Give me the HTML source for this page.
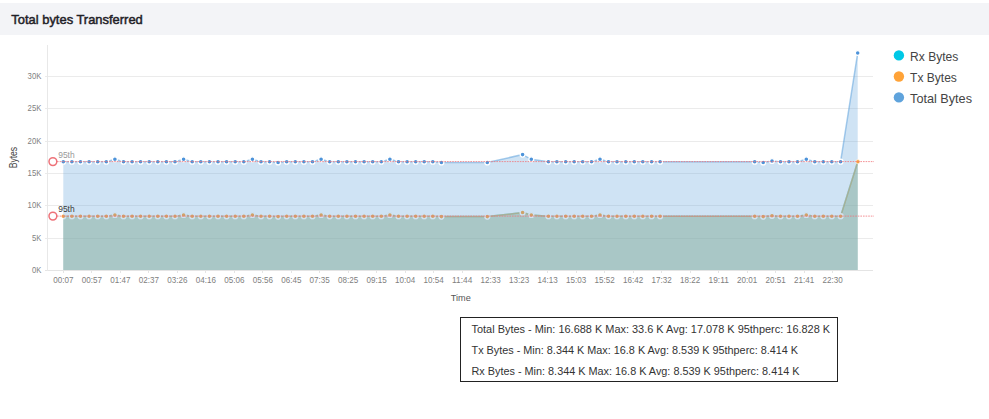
<!DOCTYPE html>
<html><head><meta charset="utf-8"><title>Total bytes Transferred</title>
<style>html,body{margin:0;padding:0;background:#fff;width:989px;height:419px;overflow:hidden;font-family:"Liberation Sans",sans-serif}</style></head>
<body>
<svg width="989" height="419" viewBox="0 0 989 419" style="position:absolute;left:0;top:0;font-family:'Liberation Sans',sans-serif">
<rect x="0" y="3" width="989" height="32" fill="#f3f4f7"/>
<text x="11.3" y="24" font-size="13.5" fill="#1f2127" stroke="#1f2127" stroke-width="0.5" textLength="131.5" lengthAdjust="spacingAndGlyphs">Total bytes Transferred</text>
<line x1="45" x2="873" y1="238.5" y2="238.5" stroke="#ebebeb" stroke-width="1"/>
<line x1="45" x2="873" y1="205.5" y2="205.5" stroke="#ebebeb" stroke-width="1"/>
<line x1="45" x2="873" y1="173.5" y2="173.5" stroke="#ebebeb" stroke-width="1"/>
<line x1="45" x2="873" y1="141.5" y2="141.5" stroke="#ebebeb" stroke-width="1"/>
<line x1="45" x2="873" y1="108.5" y2="108.5" stroke="#ebebeb" stroke-width="1"/>
<line x1="45" x2="873" y1="76.5" y2="76.5" stroke="#ebebeb" stroke-width="1"/>
<line x1="45" x2="873" y1="270.5" y2="270.5" stroke="#e4e4e4" stroke-width="1"/>
<line x1="47.5" x2="47.5" y1="45" y2="271" stroke="#e8e8e8" stroke-width="1"/>
<text x="41.4" y="273.0" font-size="8.5" fill="#808080" text-anchor="end" textLength="9.4" lengthAdjust="spacingAndGlyphs">0K</text>
<text x="41.4" y="241.0" font-size="8.5" fill="#808080" text-anchor="end" textLength="9.4" lengthAdjust="spacingAndGlyphs">5K</text>
<text x="41.4" y="208.0" font-size="8.5" fill="#808080" text-anchor="end" textLength="13.8" lengthAdjust="spacingAndGlyphs">10K</text>
<text x="41.4" y="176.0" font-size="8.5" fill="#808080" text-anchor="end" textLength="13.8" lengthAdjust="spacingAndGlyphs">15K</text>
<text x="41.4" y="144.0" font-size="8.5" fill="#808080" text-anchor="end" textLength="13.8" lengthAdjust="spacingAndGlyphs">20K</text>
<text x="41.4" y="111.0" font-size="8.5" fill="#808080" text-anchor="end" textLength="13.8" lengthAdjust="spacingAndGlyphs">25K</text>
<text x="41.4" y="79.0" font-size="8.5" fill="#808080" text-anchor="end" textLength="13.8" lengthAdjust="spacingAndGlyphs">30K</text>
<line x1="63.5" x2="63.5" y1="270" y2="273" stroke="#e4e4e4" stroke-width="1"/>
<text x="63.3" y="283" font-size="8.5" fill="#808080" text-anchor="middle" textLength="20.2" lengthAdjust="spacingAndGlyphs">00:07</text>
<line x1="91.5" x2="91.5" y1="270" y2="273" stroke="#e4e4e4" stroke-width="1"/>
<text x="91.8" y="283" font-size="8.5" fill="#808080" text-anchor="middle" textLength="20.2" lengthAdjust="spacingAndGlyphs">00:57</text>
<line x1="120.5" x2="120.5" y1="270" y2="273" stroke="#e4e4e4" stroke-width="1"/>
<text x="120.3" y="283" font-size="8.5" fill="#808080" text-anchor="middle" textLength="20.2" lengthAdjust="spacingAndGlyphs">01:47</text>
<line x1="148.5" x2="148.5" y1="270" y2="273" stroke="#e4e4e4" stroke-width="1"/>
<text x="148.8" y="283" font-size="8.5" fill="#808080" text-anchor="middle" textLength="20.2" lengthAdjust="spacingAndGlyphs">02:37</text>
<line x1="177.5" x2="177.5" y1="270" y2="273" stroke="#e4e4e4" stroke-width="1"/>
<text x="177.3" y="283" font-size="8.5" fill="#808080" text-anchor="middle" textLength="20.2" lengthAdjust="spacingAndGlyphs">03:26</text>
<line x1="205.5" x2="205.5" y1="270" y2="273" stroke="#e4e4e4" stroke-width="1"/>
<text x="205.8" y="283" font-size="8.5" fill="#808080" text-anchor="middle" textLength="20.2" lengthAdjust="spacingAndGlyphs">04:16</text>
<line x1="234.5" x2="234.5" y1="270" y2="273" stroke="#e4e4e4" stroke-width="1"/>
<text x="234.3" y="283" font-size="8.5" fill="#808080" text-anchor="middle" textLength="20.2" lengthAdjust="spacingAndGlyphs">05:06</text>
<line x1="262.5" x2="262.5" y1="270" y2="273" stroke="#e4e4e4" stroke-width="1"/>
<text x="262.8" y="283" font-size="8.5" fill="#808080" text-anchor="middle" textLength="20.2" lengthAdjust="spacingAndGlyphs">05:56</text>
<line x1="291.5" x2="291.5" y1="270" y2="273" stroke="#e4e4e4" stroke-width="1"/>
<text x="291.3" y="283" font-size="8.5" fill="#808080" text-anchor="middle" textLength="20.2" lengthAdjust="spacingAndGlyphs">06:45</text>
<line x1="319.5" x2="319.5" y1="270" y2="273" stroke="#e4e4e4" stroke-width="1"/>
<text x="319.7" y="283" font-size="8.5" fill="#808080" text-anchor="middle" textLength="20.2" lengthAdjust="spacingAndGlyphs">07:35</text>
<line x1="348.5" x2="348.5" y1="270" y2="273" stroke="#e4e4e4" stroke-width="1"/>
<text x="348.2" y="283" font-size="8.5" fill="#808080" text-anchor="middle" textLength="20.2" lengthAdjust="spacingAndGlyphs">08:25</text>
<line x1="376.5" x2="376.5" y1="270" y2="273" stroke="#e4e4e4" stroke-width="1"/>
<text x="376.7" y="283" font-size="8.5" fill="#808080" text-anchor="middle" textLength="20.2" lengthAdjust="spacingAndGlyphs">09:15</text>
<line x1="405.5" x2="405.5" y1="270" y2="273" stroke="#e4e4e4" stroke-width="1"/>
<text x="405.2" y="283" font-size="8.5" fill="#808080" text-anchor="middle" textLength="20.2" lengthAdjust="spacingAndGlyphs">10:04</text>
<line x1="433.5" x2="433.5" y1="270" y2="273" stroke="#e4e4e4" stroke-width="1"/>
<text x="433.7" y="283" font-size="8.5" fill="#808080" text-anchor="middle" textLength="20.2" lengthAdjust="spacingAndGlyphs">10:54</text>
<line x1="462.5" x2="462.5" y1="270" y2="273" stroke="#e4e4e4" stroke-width="1"/>
<text x="462.2" y="283" font-size="8.5" fill="#808080" text-anchor="middle" textLength="20.2" lengthAdjust="spacingAndGlyphs">11:44</text>
<line x1="490.5" x2="490.5" y1="270" y2="273" stroke="#e4e4e4" stroke-width="1"/>
<text x="490.7" y="283" font-size="8.5" fill="#808080" text-anchor="middle" textLength="20.2" lengthAdjust="spacingAndGlyphs">12:33</text>
<line x1="519.5" x2="519.5" y1="270" y2="273" stroke="#e4e4e4" stroke-width="1"/>
<text x="519.2" y="283" font-size="8.5" fill="#808080" text-anchor="middle" textLength="20.2" lengthAdjust="spacingAndGlyphs">13:23</text>
<line x1="547.5" x2="547.5" y1="270" y2="273" stroke="#e4e4e4" stroke-width="1"/>
<text x="547.7" y="283" font-size="8.5" fill="#808080" text-anchor="middle" textLength="20.2" lengthAdjust="spacingAndGlyphs">14:13</text>
<line x1="576.5" x2="576.5" y1="270" y2="273" stroke="#e4e4e4" stroke-width="1"/>
<text x="576.2" y="283" font-size="8.5" fill="#808080" text-anchor="middle" textLength="20.2" lengthAdjust="spacingAndGlyphs">15:03</text>
<line x1="604.5" x2="604.5" y1="270" y2="273" stroke="#e4e4e4" stroke-width="1"/>
<text x="604.7" y="283" font-size="8.5" fill="#808080" text-anchor="middle" textLength="20.2" lengthAdjust="spacingAndGlyphs">15:52</text>
<line x1="633.5" x2="633.5" y1="270" y2="273" stroke="#e4e4e4" stroke-width="1"/>
<text x="633.2" y="283" font-size="8.5" fill="#808080" text-anchor="middle" textLength="20.2" lengthAdjust="spacingAndGlyphs">16:42</text>
<line x1="661.5" x2="661.5" y1="270" y2="273" stroke="#e4e4e4" stroke-width="1"/>
<text x="661.7" y="283" font-size="8.5" fill="#808080" text-anchor="middle" textLength="20.2" lengthAdjust="spacingAndGlyphs">17:32</text>
<line x1="690.5" x2="690.5" y1="270" y2="273" stroke="#e4e4e4" stroke-width="1"/>
<text x="690.2" y="283" font-size="8.5" fill="#808080" text-anchor="middle" textLength="20.2" lengthAdjust="spacingAndGlyphs">18:22</text>
<line x1="718.5" x2="718.5" y1="270" y2="273" stroke="#e4e4e4" stroke-width="1"/>
<text x="718.7" y="283" font-size="8.5" fill="#808080" text-anchor="middle" textLength="20.2" lengthAdjust="spacingAndGlyphs">19:11</text>
<line x1="747.5" x2="747.5" y1="270" y2="273" stroke="#e4e4e4" stroke-width="1"/>
<text x="747.2" y="283" font-size="8.5" fill="#808080" text-anchor="middle" textLength="20.2" lengthAdjust="spacingAndGlyphs">20:01</text>
<line x1="775.5" x2="775.5" y1="270" y2="273" stroke="#e4e4e4" stroke-width="1"/>
<text x="775.6" y="283" font-size="8.5" fill="#808080" text-anchor="middle" textLength="20.2" lengthAdjust="spacingAndGlyphs">20:51</text>
<line x1="804.5" x2="804.5" y1="270" y2="273" stroke="#e4e4e4" stroke-width="1"/>
<text x="804.1" y="283" font-size="8.5" fill="#808080" text-anchor="middle" textLength="20.2" lengthAdjust="spacingAndGlyphs">21:41</text>
<line x1="832.5" x2="832.5" y1="270" y2="273" stroke="#e4e4e4" stroke-width="1"/>
<text x="832.6" y="283" font-size="8.5" fill="#808080" text-anchor="middle" textLength="20.2" lengthAdjust="spacingAndGlyphs">22:30</text>
<text x="460.8" y="300.9" font-size="9.5" fill="#555" text-anchor="middle" textLength="20" lengthAdjust="spacingAndGlyphs">Time</text>
<text transform="translate(17.4,157.6) rotate(-90)" font-size="10" fill="#444" text-anchor="middle" textLength="21.5" lengthAdjust="spacingAndGlyphs">Bytes</text>
<path d="M63.3,216.2 L71.9,216.2 L80.5,216.2 L89.1,216.2 L97.7,216.2 L106.3,216.2 L114.9,215.0 L123.5,216.2 L132.1,216.2 L140.6,216.2 L149.2,216.2 L157.8,216.2 L166.4,216.2 L175.0,216.2 L183.6,215.0 L192.2,216.2 L200.8,216.2 L209.4,216.2 L218.0,216.2 L226.6,216.2 L235.2,216.2 L243.8,216.2 L252.4,215.0 L261.0,216.2 L269.6,216.2 L278.1,216.6 L286.7,216.2 L295.3,216.2 L303.9,216.2 L312.5,216.2 L321.1,215.0 L329.7,216.2 L338.3,216.2 L346.9,216.2 L355.5,216.2 L364.1,216.2 L372.7,216.2 L381.3,216.2 L389.9,215.0 L398.5,216.2 L407.1,216.2 L415.7,216.2 L424.2,216.2 L432.8,216.2 L441.4,216.6 L487.3,216.6 L522.6,212.5 L531.3,215.0 L548.4,216.2 L556.9,216.2 L565.7,216.2 L574.2,216.2 L582.7,216.2 L591.5,216.2 L600.0,215.0 L608.5,216.2 L617.0,216.2 L625.8,216.2 L634.3,216.2 L642.8,216.2 L651.6,216.2 L660.1,216.2 L754.7,216.2 L763.2,216.6 L772.0,215.8 L780.5,216.2 L789.0,216.2 L797.5,216.2 L806.3,215.0 L814.8,216.2 L823.3,216.2 L831.8,216.2 L840.6,216.2 L857.7,161.7 L857.7,270 L63.3,270 Z" fill="#00c8e6" fill-opacity="0.3"/>
<path d="M63.3,216.2 L71.9,216.2 L80.5,216.2 L89.1,216.2 L97.7,216.2 L106.3,216.2 L114.9,215.0 L123.5,216.2 L132.1,216.2 L140.6,216.2 L149.2,216.2 L157.8,216.2 L166.4,216.2 L175.0,216.2 L183.6,215.0 L192.2,216.2 L200.8,216.2 L209.4,216.2 L218.0,216.2 L226.6,216.2 L235.2,216.2 L243.8,216.2 L252.4,215.0 L261.0,216.2 L269.6,216.2 L278.1,216.6 L286.7,216.2 L295.3,216.2 L303.9,216.2 L312.5,216.2 L321.1,215.0 L329.7,216.2 L338.3,216.2 L346.9,216.2 L355.5,216.2 L364.1,216.2 L372.7,216.2 L381.3,216.2 L389.9,215.0 L398.5,216.2 L407.1,216.2 L415.7,216.2 L424.2,216.2 L432.8,216.2 L441.4,216.6 L487.3,216.6 L522.6,212.5 L531.3,215.0 L548.4,216.2 L556.9,216.2 L565.7,216.2 L574.2,216.2 L582.7,216.2 L591.5,216.2 L600.0,215.0 L608.5,216.2 L617.0,216.2 L625.8,216.2 L634.3,216.2 L642.8,216.2 L651.6,216.2 L660.1,216.2 L754.7,216.2 L763.2,216.6 L772.0,215.8 L780.5,216.2 L789.0,216.2 L797.5,216.2 L806.3,215.0 L814.8,216.2 L823.3,216.2 L831.8,216.2 L840.6,216.2 L857.7,161.7" fill="none" stroke="#00c8e6" stroke-opacity="0.55" stroke-width="1.5" stroke-linejoin="round"/>
<circle cx="63.3" cy="216.2" r="2.45" fill="#00c8e6" stroke="#fff" stroke-width="1.3"/>
<circle cx="71.9" cy="216.2" r="2.45" fill="#00c8e6" stroke="#fff" stroke-width="1.3"/>
<circle cx="80.5" cy="216.2" r="2.45" fill="#00c8e6" stroke="#fff" stroke-width="1.3"/>
<circle cx="89.1" cy="216.2" r="2.45" fill="#00c8e6" stroke="#fff" stroke-width="1.3"/>
<circle cx="97.7" cy="216.2" r="2.45" fill="#00c8e6" stroke="#fff" stroke-width="1.3"/>
<circle cx="106.3" cy="216.2" r="2.45" fill="#00c8e6" stroke="#fff" stroke-width="1.3"/>
<circle cx="114.9" cy="215.0" r="2.45" fill="#00c8e6" stroke="#fff" stroke-width="1.3"/>
<circle cx="123.5" cy="216.2" r="2.45" fill="#00c8e6" stroke="#fff" stroke-width="1.3"/>
<circle cx="132.1" cy="216.2" r="2.45" fill="#00c8e6" stroke="#fff" stroke-width="1.3"/>
<circle cx="140.6" cy="216.2" r="2.45" fill="#00c8e6" stroke="#fff" stroke-width="1.3"/>
<circle cx="149.2" cy="216.2" r="2.45" fill="#00c8e6" stroke="#fff" stroke-width="1.3"/>
<circle cx="157.8" cy="216.2" r="2.45" fill="#00c8e6" stroke="#fff" stroke-width="1.3"/>
<circle cx="166.4" cy="216.2" r="2.45" fill="#00c8e6" stroke="#fff" stroke-width="1.3"/>
<circle cx="175.0" cy="216.2" r="2.45" fill="#00c8e6" stroke="#fff" stroke-width="1.3"/>
<circle cx="183.6" cy="215.0" r="2.45" fill="#00c8e6" stroke="#fff" stroke-width="1.3"/>
<circle cx="192.2" cy="216.2" r="2.45" fill="#00c8e6" stroke="#fff" stroke-width="1.3"/>
<circle cx="200.8" cy="216.2" r="2.45" fill="#00c8e6" stroke="#fff" stroke-width="1.3"/>
<circle cx="209.4" cy="216.2" r="2.45" fill="#00c8e6" stroke="#fff" stroke-width="1.3"/>
<circle cx="218.0" cy="216.2" r="2.45" fill="#00c8e6" stroke="#fff" stroke-width="1.3"/>
<circle cx="226.6" cy="216.2" r="2.45" fill="#00c8e6" stroke="#fff" stroke-width="1.3"/>
<circle cx="235.2" cy="216.2" r="2.45" fill="#00c8e6" stroke="#fff" stroke-width="1.3"/>
<circle cx="243.8" cy="216.2" r="2.45" fill="#00c8e6" stroke="#fff" stroke-width="1.3"/>
<circle cx="252.4" cy="215.0" r="2.45" fill="#00c8e6" stroke="#fff" stroke-width="1.3"/>
<circle cx="261.0" cy="216.2" r="2.45" fill="#00c8e6" stroke="#fff" stroke-width="1.3"/>
<circle cx="269.6" cy="216.2" r="2.45" fill="#00c8e6" stroke="#fff" stroke-width="1.3"/>
<circle cx="278.1" cy="216.6" r="2.45" fill="#00c8e6" stroke="#fff" stroke-width="1.3"/>
<circle cx="286.7" cy="216.2" r="2.45" fill="#00c8e6" stroke="#fff" stroke-width="1.3"/>
<circle cx="295.3" cy="216.2" r="2.45" fill="#00c8e6" stroke="#fff" stroke-width="1.3"/>
<circle cx="303.9" cy="216.2" r="2.45" fill="#00c8e6" stroke="#fff" stroke-width="1.3"/>
<circle cx="312.5" cy="216.2" r="2.45" fill="#00c8e6" stroke="#fff" stroke-width="1.3"/>
<circle cx="321.1" cy="215.0" r="2.45" fill="#00c8e6" stroke="#fff" stroke-width="1.3"/>
<circle cx="329.7" cy="216.2" r="2.45" fill="#00c8e6" stroke="#fff" stroke-width="1.3"/>
<circle cx="338.3" cy="216.2" r="2.45" fill="#00c8e6" stroke="#fff" stroke-width="1.3"/>
<circle cx="346.9" cy="216.2" r="2.45" fill="#00c8e6" stroke="#fff" stroke-width="1.3"/>
<circle cx="355.5" cy="216.2" r="2.45" fill="#00c8e6" stroke="#fff" stroke-width="1.3"/>
<circle cx="364.1" cy="216.2" r="2.45" fill="#00c8e6" stroke="#fff" stroke-width="1.3"/>
<circle cx="372.7" cy="216.2" r="2.45" fill="#00c8e6" stroke="#fff" stroke-width="1.3"/>
<circle cx="381.3" cy="216.2" r="2.45" fill="#00c8e6" stroke="#fff" stroke-width="1.3"/>
<circle cx="389.9" cy="215.0" r="2.45" fill="#00c8e6" stroke="#fff" stroke-width="1.3"/>
<circle cx="398.5" cy="216.2" r="2.45" fill="#00c8e6" stroke="#fff" stroke-width="1.3"/>
<circle cx="407.1" cy="216.2" r="2.45" fill="#00c8e6" stroke="#fff" stroke-width="1.3"/>
<circle cx="415.7" cy="216.2" r="2.45" fill="#00c8e6" stroke="#fff" stroke-width="1.3"/>
<circle cx="424.2" cy="216.2" r="2.45" fill="#00c8e6" stroke="#fff" stroke-width="1.3"/>
<circle cx="432.8" cy="216.2" r="2.45" fill="#00c8e6" stroke="#fff" stroke-width="1.3"/>
<circle cx="441.4" cy="216.6" r="2.45" fill="#00c8e6" stroke="#fff" stroke-width="1.3"/>
<circle cx="487.3" cy="216.6" r="2.45" fill="#00c8e6" stroke="#fff" stroke-width="1.3"/>
<circle cx="522.6" cy="212.5" r="2.45" fill="#00c8e6" stroke="#fff" stroke-width="1.3"/>
<circle cx="531.3" cy="215.0" r="2.45" fill="#00c8e6" stroke="#fff" stroke-width="1.3"/>
<circle cx="548.4" cy="216.2" r="2.45" fill="#00c8e6" stroke="#fff" stroke-width="1.3"/>
<circle cx="556.9" cy="216.2" r="2.45" fill="#00c8e6" stroke="#fff" stroke-width="1.3"/>
<circle cx="565.7" cy="216.2" r="2.45" fill="#00c8e6" stroke="#fff" stroke-width="1.3"/>
<circle cx="574.2" cy="216.2" r="2.45" fill="#00c8e6" stroke="#fff" stroke-width="1.3"/>
<circle cx="582.7" cy="216.2" r="2.45" fill="#00c8e6" stroke="#fff" stroke-width="1.3"/>
<circle cx="591.5" cy="216.2" r="2.45" fill="#00c8e6" stroke="#fff" stroke-width="1.3"/>
<circle cx="600.0" cy="215.0" r="2.45" fill="#00c8e6" stroke="#fff" stroke-width="1.3"/>
<circle cx="608.5" cy="216.2" r="2.45" fill="#00c8e6" stroke="#fff" stroke-width="1.3"/>
<circle cx="617.0" cy="216.2" r="2.45" fill="#00c8e6" stroke="#fff" stroke-width="1.3"/>
<circle cx="625.8" cy="216.2" r="2.45" fill="#00c8e6" stroke="#fff" stroke-width="1.3"/>
<circle cx="634.3" cy="216.2" r="2.45" fill="#00c8e6" stroke="#fff" stroke-width="1.3"/>
<circle cx="642.8" cy="216.2" r="2.45" fill="#00c8e6" stroke="#fff" stroke-width="1.3"/>
<circle cx="651.6" cy="216.2" r="2.45" fill="#00c8e6" stroke="#fff" stroke-width="1.3"/>
<circle cx="660.1" cy="216.2" r="2.45" fill="#00c8e6" stroke="#fff" stroke-width="1.3"/>
<circle cx="754.7" cy="216.2" r="2.45" fill="#00c8e6" stroke="#fff" stroke-width="1.3"/>
<circle cx="763.2" cy="216.6" r="2.45" fill="#00c8e6" stroke="#fff" stroke-width="1.3"/>
<circle cx="772.0" cy="215.8" r="2.45" fill="#00c8e6" stroke="#fff" stroke-width="1.3"/>
<circle cx="780.5" cy="216.2" r="2.45" fill="#00c8e6" stroke="#fff" stroke-width="1.3"/>
<circle cx="789.0" cy="216.2" r="2.45" fill="#00c8e6" stroke="#fff" stroke-width="1.3"/>
<circle cx="797.5" cy="216.2" r="2.45" fill="#00c8e6" stroke="#fff" stroke-width="1.3"/>
<circle cx="806.3" cy="215.0" r="2.45" fill="#00c8e6" stroke="#fff" stroke-width="1.3"/>
<circle cx="814.8" cy="216.2" r="2.45" fill="#00c8e6" stroke="#fff" stroke-width="1.3"/>
<circle cx="823.3" cy="216.2" r="2.45" fill="#00c8e6" stroke="#fff" stroke-width="1.3"/>
<circle cx="831.8" cy="216.2" r="2.45" fill="#00c8e6" stroke="#fff" stroke-width="1.3"/>
<circle cx="840.6" cy="216.2" r="2.45" fill="#00c8e6" stroke="#fff" stroke-width="1.3"/>
<circle cx="857.7" cy="161.7" r="1.7" fill="#00c8e6"/>
<path d="M63.3,216.2 L71.9,216.2 L80.5,216.2 L89.1,216.2 L97.7,216.2 L106.3,216.2 L114.9,215.0 L123.5,216.2 L132.1,216.2 L140.6,216.2 L149.2,216.2 L157.8,216.2 L166.4,216.2 L175.0,216.2 L183.6,215.0 L192.2,216.2 L200.8,216.2 L209.4,216.2 L218.0,216.2 L226.6,216.2 L235.2,216.2 L243.8,216.2 L252.4,215.0 L261.0,216.2 L269.6,216.2 L278.1,216.6 L286.7,216.2 L295.3,216.2 L303.9,216.2 L312.5,216.2 L321.1,215.0 L329.7,216.2 L338.3,216.2 L346.9,216.2 L355.5,216.2 L364.1,216.2 L372.7,216.2 L381.3,216.2 L389.9,215.0 L398.5,216.2 L407.1,216.2 L415.7,216.2 L424.2,216.2 L432.8,216.2 L441.4,216.6 L487.3,216.6 L522.6,212.5 L531.3,215.0 L548.4,216.2 L556.9,216.2 L565.7,216.2 L574.2,216.2 L582.7,216.2 L591.5,216.2 L600.0,215.0 L608.5,216.2 L617.0,216.2 L625.8,216.2 L634.3,216.2 L642.8,216.2 L651.6,216.2 L660.1,216.2 L754.7,216.2 L763.2,216.6 L772.0,215.8 L780.5,216.2 L789.0,216.2 L797.5,216.2 L806.3,215.0 L814.8,216.2 L823.3,216.2 L831.8,216.2 L840.6,216.2 L857.7,161.7 L857.7,270 L63.3,270 Z" fill="#ffa338" fill-opacity="0.3"/>
<path d="M63.3,216.2 L71.9,216.2 L80.5,216.2 L89.1,216.2 L97.7,216.2 L106.3,216.2 L114.9,215.0 L123.5,216.2 L132.1,216.2 L140.6,216.2 L149.2,216.2 L157.8,216.2 L166.4,216.2 L175.0,216.2 L183.6,215.0 L192.2,216.2 L200.8,216.2 L209.4,216.2 L218.0,216.2 L226.6,216.2 L235.2,216.2 L243.8,216.2 L252.4,215.0 L261.0,216.2 L269.6,216.2 L278.1,216.6 L286.7,216.2 L295.3,216.2 L303.9,216.2 L312.5,216.2 L321.1,215.0 L329.7,216.2 L338.3,216.2 L346.9,216.2 L355.5,216.2 L364.1,216.2 L372.7,216.2 L381.3,216.2 L389.9,215.0 L398.5,216.2 L407.1,216.2 L415.7,216.2 L424.2,216.2 L432.8,216.2 L441.4,216.6 L487.3,216.6 L522.6,212.5 L531.3,215.0 L548.4,216.2 L556.9,216.2 L565.7,216.2 L574.2,216.2 L582.7,216.2 L591.5,216.2 L600.0,215.0 L608.5,216.2 L617.0,216.2 L625.8,216.2 L634.3,216.2 L642.8,216.2 L651.6,216.2 L660.1,216.2 L754.7,216.2 L763.2,216.6 L772.0,215.8 L780.5,216.2 L789.0,216.2 L797.5,216.2 L806.3,215.0 L814.8,216.2 L823.3,216.2 L831.8,216.2 L840.6,216.2 L857.7,161.7" fill="none" stroke="#ffa338" stroke-opacity="0.55" stroke-width="1.5" stroke-linejoin="round"/>
<circle cx="63.3" cy="216.2" r="2.45" fill="#ffa338" stroke="#fff" stroke-width="1.3"/>
<circle cx="71.9" cy="216.2" r="2.45" fill="#ffa338" stroke="#fff" stroke-width="1.3"/>
<circle cx="80.5" cy="216.2" r="2.45" fill="#ffa338" stroke="#fff" stroke-width="1.3"/>
<circle cx="89.1" cy="216.2" r="2.45" fill="#ffa338" stroke="#fff" stroke-width="1.3"/>
<circle cx="97.7" cy="216.2" r="2.45" fill="#ffa338" stroke="#fff" stroke-width="1.3"/>
<circle cx="106.3" cy="216.2" r="2.45" fill="#ffa338" stroke="#fff" stroke-width="1.3"/>
<circle cx="114.9" cy="215.0" r="2.45" fill="#ffa338" stroke="#fff" stroke-width="1.3"/>
<circle cx="123.5" cy="216.2" r="2.45" fill="#ffa338" stroke="#fff" stroke-width="1.3"/>
<circle cx="132.1" cy="216.2" r="2.45" fill="#ffa338" stroke="#fff" stroke-width="1.3"/>
<circle cx="140.6" cy="216.2" r="2.45" fill="#ffa338" stroke="#fff" stroke-width="1.3"/>
<circle cx="149.2" cy="216.2" r="2.45" fill="#ffa338" stroke="#fff" stroke-width="1.3"/>
<circle cx="157.8" cy="216.2" r="2.45" fill="#ffa338" stroke="#fff" stroke-width="1.3"/>
<circle cx="166.4" cy="216.2" r="2.45" fill="#ffa338" stroke="#fff" stroke-width="1.3"/>
<circle cx="175.0" cy="216.2" r="2.45" fill="#ffa338" stroke="#fff" stroke-width="1.3"/>
<circle cx="183.6" cy="215.0" r="2.45" fill="#ffa338" stroke="#fff" stroke-width="1.3"/>
<circle cx="192.2" cy="216.2" r="2.45" fill="#ffa338" stroke="#fff" stroke-width="1.3"/>
<circle cx="200.8" cy="216.2" r="2.45" fill="#ffa338" stroke="#fff" stroke-width="1.3"/>
<circle cx="209.4" cy="216.2" r="2.45" fill="#ffa338" stroke="#fff" stroke-width="1.3"/>
<circle cx="218.0" cy="216.2" r="2.45" fill="#ffa338" stroke="#fff" stroke-width="1.3"/>
<circle cx="226.6" cy="216.2" r="2.45" fill="#ffa338" stroke="#fff" stroke-width="1.3"/>
<circle cx="235.2" cy="216.2" r="2.45" fill="#ffa338" stroke="#fff" stroke-width="1.3"/>
<circle cx="243.8" cy="216.2" r="2.45" fill="#ffa338" stroke="#fff" stroke-width="1.3"/>
<circle cx="252.4" cy="215.0" r="2.45" fill="#ffa338" stroke="#fff" stroke-width="1.3"/>
<circle cx="261.0" cy="216.2" r="2.45" fill="#ffa338" stroke="#fff" stroke-width="1.3"/>
<circle cx="269.6" cy="216.2" r="2.45" fill="#ffa338" stroke="#fff" stroke-width="1.3"/>
<circle cx="278.1" cy="216.6" r="2.45" fill="#ffa338" stroke="#fff" stroke-width="1.3"/>
<circle cx="286.7" cy="216.2" r="2.45" fill="#ffa338" stroke="#fff" stroke-width="1.3"/>
<circle cx="295.3" cy="216.2" r="2.45" fill="#ffa338" stroke="#fff" stroke-width="1.3"/>
<circle cx="303.9" cy="216.2" r="2.45" fill="#ffa338" stroke="#fff" stroke-width="1.3"/>
<circle cx="312.5" cy="216.2" r="2.45" fill="#ffa338" stroke="#fff" stroke-width="1.3"/>
<circle cx="321.1" cy="215.0" r="2.45" fill="#ffa338" stroke="#fff" stroke-width="1.3"/>
<circle cx="329.7" cy="216.2" r="2.45" fill="#ffa338" stroke="#fff" stroke-width="1.3"/>
<circle cx="338.3" cy="216.2" r="2.45" fill="#ffa338" stroke="#fff" stroke-width="1.3"/>
<circle cx="346.9" cy="216.2" r="2.45" fill="#ffa338" stroke="#fff" stroke-width="1.3"/>
<circle cx="355.5" cy="216.2" r="2.45" fill="#ffa338" stroke="#fff" stroke-width="1.3"/>
<circle cx="364.1" cy="216.2" r="2.45" fill="#ffa338" stroke="#fff" stroke-width="1.3"/>
<circle cx="372.7" cy="216.2" r="2.45" fill="#ffa338" stroke="#fff" stroke-width="1.3"/>
<circle cx="381.3" cy="216.2" r="2.45" fill="#ffa338" stroke="#fff" stroke-width="1.3"/>
<circle cx="389.9" cy="215.0" r="2.45" fill="#ffa338" stroke="#fff" stroke-width="1.3"/>
<circle cx="398.5" cy="216.2" r="2.45" fill="#ffa338" stroke="#fff" stroke-width="1.3"/>
<circle cx="407.1" cy="216.2" r="2.45" fill="#ffa338" stroke="#fff" stroke-width="1.3"/>
<circle cx="415.7" cy="216.2" r="2.45" fill="#ffa338" stroke="#fff" stroke-width="1.3"/>
<circle cx="424.2" cy="216.2" r="2.45" fill="#ffa338" stroke="#fff" stroke-width="1.3"/>
<circle cx="432.8" cy="216.2" r="2.45" fill="#ffa338" stroke="#fff" stroke-width="1.3"/>
<circle cx="441.4" cy="216.6" r="2.45" fill="#ffa338" stroke="#fff" stroke-width="1.3"/>
<circle cx="487.3" cy="216.6" r="2.45" fill="#ffa338" stroke="#fff" stroke-width="1.3"/>
<circle cx="522.6" cy="212.5" r="2.45" fill="#ffa338" stroke="#fff" stroke-width="1.3"/>
<circle cx="531.3" cy="215.0" r="2.45" fill="#ffa338" stroke="#fff" stroke-width="1.3"/>
<circle cx="548.4" cy="216.2" r="2.45" fill="#ffa338" stroke="#fff" stroke-width="1.3"/>
<circle cx="556.9" cy="216.2" r="2.45" fill="#ffa338" stroke="#fff" stroke-width="1.3"/>
<circle cx="565.7" cy="216.2" r="2.45" fill="#ffa338" stroke="#fff" stroke-width="1.3"/>
<circle cx="574.2" cy="216.2" r="2.45" fill="#ffa338" stroke="#fff" stroke-width="1.3"/>
<circle cx="582.7" cy="216.2" r="2.45" fill="#ffa338" stroke="#fff" stroke-width="1.3"/>
<circle cx="591.5" cy="216.2" r="2.45" fill="#ffa338" stroke="#fff" stroke-width="1.3"/>
<circle cx="600.0" cy="215.0" r="2.45" fill="#ffa338" stroke="#fff" stroke-width="1.3"/>
<circle cx="608.5" cy="216.2" r="2.45" fill="#ffa338" stroke="#fff" stroke-width="1.3"/>
<circle cx="617.0" cy="216.2" r="2.45" fill="#ffa338" stroke="#fff" stroke-width="1.3"/>
<circle cx="625.8" cy="216.2" r="2.45" fill="#ffa338" stroke="#fff" stroke-width="1.3"/>
<circle cx="634.3" cy="216.2" r="2.45" fill="#ffa338" stroke="#fff" stroke-width="1.3"/>
<circle cx="642.8" cy="216.2" r="2.45" fill="#ffa338" stroke="#fff" stroke-width="1.3"/>
<circle cx="651.6" cy="216.2" r="2.45" fill="#ffa338" stroke="#fff" stroke-width="1.3"/>
<circle cx="660.1" cy="216.2" r="2.45" fill="#ffa338" stroke="#fff" stroke-width="1.3"/>
<circle cx="754.7" cy="216.2" r="2.45" fill="#ffa338" stroke="#fff" stroke-width="1.3"/>
<circle cx="763.2" cy="216.6" r="2.45" fill="#ffa338" stroke="#fff" stroke-width="1.3"/>
<circle cx="772.0" cy="215.8" r="2.45" fill="#ffa338" stroke="#fff" stroke-width="1.3"/>
<circle cx="780.5" cy="216.2" r="2.45" fill="#ffa338" stroke="#fff" stroke-width="1.3"/>
<circle cx="789.0" cy="216.2" r="2.45" fill="#ffa338" stroke="#fff" stroke-width="1.3"/>
<circle cx="797.5" cy="216.2" r="2.45" fill="#ffa338" stroke="#fff" stroke-width="1.3"/>
<circle cx="806.3" cy="215.0" r="2.45" fill="#ffa338" stroke="#fff" stroke-width="1.3"/>
<circle cx="814.8" cy="216.2" r="2.45" fill="#ffa338" stroke="#fff" stroke-width="1.3"/>
<circle cx="823.3" cy="216.2" r="2.45" fill="#ffa338" stroke="#fff" stroke-width="1.3"/>
<circle cx="831.8" cy="216.2" r="2.45" fill="#ffa338" stroke="#fff" stroke-width="1.3"/>
<circle cx="840.6" cy="216.2" r="2.45" fill="#ffa338" stroke="#fff" stroke-width="1.3"/>
<circle cx="857.7" cy="161.7" r="1.7" fill="#ffa338"/>
<path d="M63.3,161.7 L71.9,161.7 L80.5,161.7 L89.1,161.7 L97.7,161.7 L106.3,161.7 L114.9,159.3 L123.5,161.7 L132.1,161.7 L140.6,161.7 L149.2,161.7 L157.8,161.7 L166.4,161.7 L175.0,161.7 L183.6,159.3 L192.2,161.7 L200.8,161.7 L209.4,161.7 L218.0,161.7 L226.6,161.7 L235.2,161.7 L243.8,161.7 L252.4,159.3 L261.0,161.7 L269.6,161.7 L278.1,162.5 L286.7,161.7 L295.3,161.7 L303.9,161.7 L312.5,161.7 L321.1,159.3 L329.7,161.7 L338.3,161.7 L346.9,161.7 L355.5,161.7 L364.1,161.7 L372.7,161.7 L381.3,161.7 L389.9,159.3 L398.5,161.7 L407.1,161.7 L415.7,161.7 L424.2,161.7 L432.8,161.7 L441.4,162.5 L487.3,162.5 L522.6,154.6 L531.3,159.3 L548.4,161.7 L556.9,161.7 L565.7,161.7 L574.2,161.7 L582.7,161.7 L591.5,161.7 L600.0,159.3 L608.5,161.7 L617.0,161.7 L625.8,161.7 L634.3,161.7 L642.8,161.7 L651.6,161.7 L660.1,161.7 L754.7,161.7 L763.2,162.5 L772.0,161.0 L780.5,161.7 L789.0,161.7 L797.5,161.7 L806.3,159.3 L814.8,161.7 L823.3,161.7 L831.8,161.7 L840.6,161.7 L857.7,53.0 L857.7,270 L63.3,270 Z" fill="#5fa3dc" fill-opacity="0.3"/>
<path d="M63.3,161.7 L71.9,161.7 L80.5,161.7 L89.1,161.7 L97.7,161.7 L106.3,161.7 L114.9,159.3 L123.5,161.7 L132.1,161.7 L140.6,161.7 L149.2,161.7 L157.8,161.7 L166.4,161.7 L175.0,161.7 L183.6,159.3 L192.2,161.7 L200.8,161.7 L209.4,161.7 L218.0,161.7 L226.6,161.7 L235.2,161.7 L243.8,161.7 L252.4,159.3 L261.0,161.7 L269.6,161.7 L278.1,162.5 L286.7,161.7 L295.3,161.7 L303.9,161.7 L312.5,161.7 L321.1,159.3 L329.7,161.7 L338.3,161.7 L346.9,161.7 L355.5,161.7 L364.1,161.7 L372.7,161.7 L381.3,161.7 L389.9,159.3 L398.5,161.7 L407.1,161.7 L415.7,161.7 L424.2,161.7 L432.8,161.7 L441.4,162.5 L487.3,162.5 L522.6,154.6 L531.3,159.3 L548.4,161.7 L556.9,161.7 L565.7,161.7 L574.2,161.7 L582.7,161.7 L591.5,161.7 L600.0,159.3 L608.5,161.7 L617.0,161.7 L625.8,161.7 L634.3,161.7 L642.8,161.7 L651.6,161.7 L660.1,161.7 L754.7,161.7 L763.2,162.5 L772.0,161.0 L780.5,161.7 L789.0,161.7 L797.5,161.7 L806.3,159.3 L814.8,161.7 L823.3,161.7 L831.8,161.7 L840.6,161.7 L857.7,53.0" fill="none" stroke="#5fa3dc" stroke-opacity="0.55" stroke-width="1.5" stroke-linejoin="round"/>
<circle cx="63.3" cy="161.7" r="2.45" fill="#4c93da" stroke="#fff" stroke-width="1.3"/>
<circle cx="71.9" cy="161.7" r="2.45" fill="#4c93da" stroke="#fff" stroke-width="1.3"/>
<circle cx="80.5" cy="161.7" r="2.45" fill="#4c93da" stroke="#fff" stroke-width="1.3"/>
<circle cx="89.1" cy="161.7" r="2.45" fill="#4c93da" stroke="#fff" stroke-width="1.3"/>
<circle cx="97.7" cy="161.7" r="2.45" fill="#4c93da" stroke="#fff" stroke-width="1.3"/>
<circle cx="106.3" cy="161.7" r="2.45" fill="#4c93da" stroke="#fff" stroke-width="1.3"/>
<circle cx="114.9" cy="159.3" r="2.45" fill="#4c93da" stroke="#fff" stroke-width="1.3"/>
<circle cx="123.5" cy="161.7" r="2.45" fill="#4c93da" stroke="#fff" stroke-width="1.3"/>
<circle cx="132.1" cy="161.7" r="2.45" fill="#4c93da" stroke="#fff" stroke-width="1.3"/>
<circle cx="140.6" cy="161.7" r="2.45" fill="#4c93da" stroke="#fff" stroke-width="1.3"/>
<circle cx="149.2" cy="161.7" r="2.45" fill="#4c93da" stroke="#fff" stroke-width="1.3"/>
<circle cx="157.8" cy="161.7" r="2.45" fill="#4c93da" stroke="#fff" stroke-width="1.3"/>
<circle cx="166.4" cy="161.7" r="2.45" fill="#4c93da" stroke="#fff" stroke-width="1.3"/>
<circle cx="175.0" cy="161.7" r="2.45" fill="#4c93da" stroke="#fff" stroke-width="1.3"/>
<circle cx="183.6" cy="159.3" r="2.45" fill="#4c93da" stroke="#fff" stroke-width="1.3"/>
<circle cx="192.2" cy="161.7" r="2.45" fill="#4c93da" stroke="#fff" stroke-width="1.3"/>
<circle cx="200.8" cy="161.7" r="2.45" fill="#4c93da" stroke="#fff" stroke-width="1.3"/>
<circle cx="209.4" cy="161.7" r="2.45" fill="#4c93da" stroke="#fff" stroke-width="1.3"/>
<circle cx="218.0" cy="161.7" r="2.45" fill="#4c93da" stroke="#fff" stroke-width="1.3"/>
<circle cx="226.6" cy="161.7" r="2.45" fill="#4c93da" stroke="#fff" stroke-width="1.3"/>
<circle cx="235.2" cy="161.7" r="2.45" fill="#4c93da" stroke="#fff" stroke-width="1.3"/>
<circle cx="243.8" cy="161.7" r="2.45" fill="#4c93da" stroke="#fff" stroke-width="1.3"/>
<circle cx="252.4" cy="159.3" r="2.45" fill="#4c93da" stroke="#fff" stroke-width="1.3"/>
<circle cx="261.0" cy="161.7" r="2.45" fill="#4c93da" stroke="#fff" stroke-width="1.3"/>
<circle cx="269.6" cy="161.7" r="2.45" fill="#4c93da" stroke="#fff" stroke-width="1.3"/>
<circle cx="278.1" cy="162.5" r="2.45" fill="#4c93da" stroke="#fff" stroke-width="1.3"/>
<circle cx="286.7" cy="161.7" r="2.45" fill="#4c93da" stroke="#fff" stroke-width="1.3"/>
<circle cx="295.3" cy="161.7" r="2.45" fill="#4c93da" stroke="#fff" stroke-width="1.3"/>
<circle cx="303.9" cy="161.7" r="2.45" fill="#4c93da" stroke="#fff" stroke-width="1.3"/>
<circle cx="312.5" cy="161.7" r="2.45" fill="#4c93da" stroke="#fff" stroke-width="1.3"/>
<circle cx="321.1" cy="159.3" r="2.45" fill="#4c93da" stroke="#fff" stroke-width="1.3"/>
<circle cx="329.7" cy="161.7" r="2.45" fill="#4c93da" stroke="#fff" stroke-width="1.3"/>
<circle cx="338.3" cy="161.7" r="2.45" fill="#4c93da" stroke="#fff" stroke-width="1.3"/>
<circle cx="346.9" cy="161.7" r="2.45" fill="#4c93da" stroke="#fff" stroke-width="1.3"/>
<circle cx="355.5" cy="161.7" r="2.45" fill="#4c93da" stroke="#fff" stroke-width="1.3"/>
<circle cx="364.1" cy="161.7" r="2.45" fill="#4c93da" stroke="#fff" stroke-width="1.3"/>
<circle cx="372.7" cy="161.7" r="2.45" fill="#4c93da" stroke="#fff" stroke-width="1.3"/>
<circle cx="381.3" cy="161.7" r="2.45" fill="#4c93da" stroke="#fff" stroke-width="1.3"/>
<circle cx="389.9" cy="159.3" r="2.45" fill="#4c93da" stroke="#fff" stroke-width="1.3"/>
<circle cx="398.5" cy="161.7" r="2.45" fill="#4c93da" stroke="#fff" stroke-width="1.3"/>
<circle cx="407.1" cy="161.7" r="2.45" fill="#4c93da" stroke="#fff" stroke-width="1.3"/>
<circle cx="415.7" cy="161.7" r="2.45" fill="#4c93da" stroke="#fff" stroke-width="1.3"/>
<circle cx="424.2" cy="161.7" r="2.45" fill="#4c93da" stroke="#fff" stroke-width="1.3"/>
<circle cx="432.8" cy="161.7" r="2.45" fill="#4c93da" stroke="#fff" stroke-width="1.3"/>
<circle cx="441.4" cy="162.5" r="2.45" fill="#4c93da" stroke="#fff" stroke-width="1.3"/>
<circle cx="487.3" cy="162.5" r="2.45" fill="#4c93da" stroke="#fff" stroke-width="1.3"/>
<circle cx="522.6" cy="154.6" r="2.45" fill="#4c93da" stroke="#fff" stroke-width="1.3"/>
<circle cx="531.3" cy="159.3" r="2.45" fill="#4c93da" stroke="#fff" stroke-width="1.3"/>
<circle cx="548.4" cy="161.7" r="2.45" fill="#4c93da" stroke="#fff" stroke-width="1.3"/>
<circle cx="556.9" cy="161.7" r="2.45" fill="#4c93da" stroke="#fff" stroke-width="1.3"/>
<circle cx="565.7" cy="161.7" r="2.45" fill="#4c93da" stroke="#fff" stroke-width="1.3"/>
<circle cx="574.2" cy="161.7" r="2.45" fill="#4c93da" stroke="#fff" stroke-width="1.3"/>
<circle cx="582.7" cy="161.7" r="2.45" fill="#4c93da" stroke="#fff" stroke-width="1.3"/>
<circle cx="591.5" cy="161.7" r="2.45" fill="#4c93da" stroke="#fff" stroke-width="1.3"/>
<circle cx="600.0" cy="159.3" r="2.45" fill="#4c93da" stroke="#fff" stroke-width="1.3"/>
<circle cx="608.5" cy="161.7" r="2.45" fill="#4c93da" stroke="#fff" stroke-width="1.3"/>
<circle cx="617.0" cy="161.7" r="2.45" fill="#4c93da" stroke="#fff" stroke-width="1.3"/>
<circle cx="625.8" cy="161.7" r="2.45" fill="#4c93da" stroke="#fff" stroke-width="1.3"/>
<circle cx="634.3" cy="161.7" r="2.45" fill="#4c93da" stroke="#fff" stroke-width="1.3"/>
<circle cx="642.8" cy="161.7" r="2.45" fill="#4c93da" stroke="#fff" stroke-width="1.3"/>
<circle cx="651.6" cy="161.7" r="2.45" fill="#4c93da" stroke="#fff" stroke-width="1.3"/>
<circle cx="660.1" cy="161.7" r="2.45" fill="#4c93da" stroke="#fff" stroke-width="1.3"/>
<circle cx="754.7" cy="161.7" r="2.45" fill="#4c93da" stroke="#fff" stroke-width="1.3"/>
<circle cx="763.2" cy="162.5" r="2.45" fill="#4c93da" stroke="#fff" stroke-width="1.3"/>
<circle cx="772.0" cy="161.0" r="2.45" fill="#4c93da" stroke="#fff" stroke-width="1.3"/>
<circle cx="780.5" cy="161.7" r="2.45" fill="#4c93da" stroke="#fff" stroke-width="1.3"/>
<circle cx="789.0" cy="161.7" r="2.45" fill="#4c93da" stroke="#fff" stroke-width="1.3"/>
<circle cx="797.5" cy="161.7" r="2.45" fill="#4c93da" stroke="#fff" stroke-width="1.3"/>
<circle cx="806.3" cy="159.3" r="2.45" fill="#4c93da" stroke="#fff" stroke-width="1.3"/>
<circle cx="814.8" cy="161.7" r="2.45" fill="#4c93da" stroke="#fff" stroke-width="1.3"/>
<circle cx="823.3" cy="161.7" r="2.45" fill="#4c93da" stroke="#fff" stroke-width="1.3"/>
<circle cx="831.8" cy="161.7" r="2.45" fill="#4c93da" stroke="#fff" stroke-width="1.3"/>
<circle cx="840.6" cy="161.7" r="2.45" fill="#4c93da" stroke="#fff" stroke-width="1.3"/>
<circle cx="857.7" cy="53.0" r="1.7" fill="#4c93da"/>
<circle cx="857.9" cy="161.7" r="2.1" fill="#fba23e" stroke="#fff" stroke-width="0.7"/>
<circle cx="857.7" cy="53" r="2.4" fill="#4c93da" stroke="#fff" stroke-width="1.3"/>
<line x1="57" x2="874" y1="161.6" y2="161.6" stroke="#f0747a" stroke-opacity="0.8" stroke-width="1" stroke-dasharray="1.6,1"/>
<circle cx="52.9" cy="161.6" r="3.9" fill="#fff" stroke="#ee7279" stroke-width="1.5"/>
<text x="58.2" y="157.7" font-size="8.4" fill="#9a9a9a" textLength="16.5" lengthAdjust="spacingAndGlyphs">95th</text>
<line x1="57" x2="874" y1="216.1" y2="216.1" stroke="#f0747a" stroke-opacity="0.8" stroke-width="1" stroke-dasharray="1.6,1"/>
<circle cx="52.9" cy="216.1" r="3.9" fill="#fff" stroke="#ee7279" stroke-width="1.5"/>
<text x="58.2" y="212.2" font-size="8.4" fill="#3a3a3a" textLength="16.5" lengthAdjust="spacingAndGlyphs">95th</text>
<circle cx="898.9" cy="55.4" r="5.2" fill="#00c8e6"/>
<text x="910.1" y="61.0" font-size="13.4" fill="#444" textLength="48.2" lengthAdjust="spacingAndGlyphs">Rx Bytes</text>
<circle cx="898.9" cy="76.5" r="5.2" fill="#ffa338"/>
<text x="910.1" y="82.1" font-size="13.4" fill="#444" textLength="46.8" lengthAdjust="spacingAndGlyphs">Tx Bytes</text>
<circle cx="898.9" cy="97.4" r="5.2" fill="#5fa3dc"/>
<text x="910.1" y="103.0" font-size="13.4" fill="#444" textLength="61.9" lengthAdjust="spacingAndGlyphs">Total Bytes</text>
<rect x="460.5" y="317.5" width="377" height="64" fill="#fff" stroke="#222" stroke-width="1"/>
<text x="471.5" y="332.6" font-size="11" fill="#333" textLength="358.6" lengthAdjust="spacingAndGlyphs">Total Bytes - Min: 16.688 K Max: 33.6 K Avg: 17.078 K 95thperc: 16.828 K</text>
<text x="471.5" y="353.7" font-size="11" fill="#333" textLength="326.6" lengthAdjust="spacingAndGlyphs">Tx Bytes - Min: 8.344 K Max: 16.8 K Avg: 8.539 K 95thperc: 8.414 K</text>
<text x="471.5" y="374.8" font-size="11" fill="#333" textLength="328.0" lengthAdjust="spacingAndGlyphs">Rx Bytes - Min: 8.344 K Max: 16.8 K Avg: 8.539 K 95thperc: 8.414 K</text>
</svg>
</body></html>
